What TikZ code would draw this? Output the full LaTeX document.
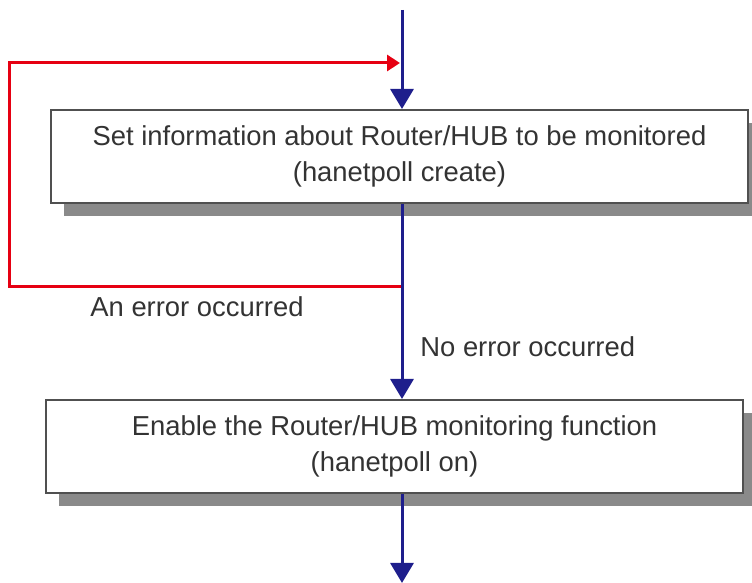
\documentclass[tikz,border=0pt]{standalone}
\usepackage{fontspec}
\setmainfont{Liberation Sans}
\usetikzlibrary{arrows.meta,shadows}
\definecolor{flow}{HTML}{1E1E8C}
\definecolor{retry}{HTML}{E60012}
\definecolor{frame}{HTML}{505050}
\definecolor{shade}{HTML}{8A8A8A}
\definecolor{txt}{HTML}{333333}

\begin{document}
\begin{tikzpicture}[x=0.5pt,y=-0.5pt,
  font=\fontsize{13.7}{18}\selectfont,
  stepbox/.style={draw=frame,line width=1pt,fill=white,text=txt,align=center,
    minimum width=348.5pt,minimum height=46.5pt,inner sep=0pt,
    drop shadow={shadow xshift=6.25pt,shadow yshift=-6.75pt,fill=shade,opacity=1}},
  flowline/.style={flow,line width=1.5pt,-{Triangle[length=10pt,width=11.5pt]}},
  retryline/.style={retry,line width=1.5pt,-{Triangle[length=6.5pt,width=8pt]}},
  note/.style={text=txt,anchor=west,inner sep=0pt}]
 \useasboundingbox (0,0) rectangle (752,583);
 \coordinate (start) at (402,10);
 \coordinate (finish) at (402,583);
 \coordinate (err) at (402,287);
 \coordinate (back) at (10,63);
 \coordinate (join) at (400,63);
 \node[stepbox] (setinfo) at (399.5,156.5)
  {Set information about Router/HUB to be monitored\\(hanetpoll create)};
 \node[stepbox] (enable) at (394.5,446.5)
  {Enable the Router/HUB monitoring function\\(hanetpoll on)};
 % error loop back to the top
 \draw[retryline] (err) -| (back) -- (join);
 \draw[flowline] (start) -- (start |- setinfo.north);
 \draw[flowline] (setinfo.south -| start) -- (start |- enable.north);
 \draw[flowline] (enable.south -| start) -- (finish);
 \node[note] (errtext) at (90,307) {An error occurred};
 \node[note] (oktext) at (420,347) {No error occurred};
\end{tikzpicture}
\end{document}
